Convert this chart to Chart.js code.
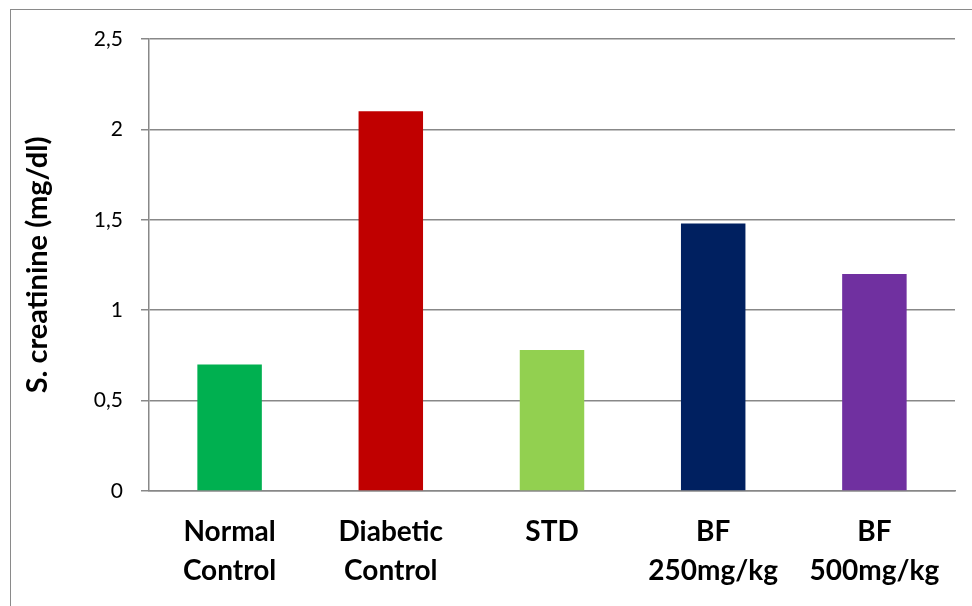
<!DOCTYPE html>
<html>
<head>
<meta charset="utf-8">
<script src="https://cdn.jsdelivr.net/npm/chart.js@4/dist/chart.umd.min.js"></script>
<style>
  html, body { margin: 0; padding: 0; background: #fff; }
  #wrap { position: relative; width: 972px; height: 606px; overflow: hidden; }
  #frame { position: absolute; left: 10px; top: 9px; width: 980px; height: 620px;
           border-left: 1px solid #8a8a8a; border-top: 1px solid #8a8a8a; box-sizing: border-box; }
  canvas { position: absolute; left: 0; top: 0; }
</style>
</head>
<body>
<div id="wrap">
  <div id="frame"></div>
  <canvas id="c" width="972" height="606"></canvas>
</div>
<script>
// Serum creatinine by treatment group
const groups = [['Normal', 'Control'], ['Diabetic', 'Control'], 'STD', ['BF', '250mg/kg'], ['BF', '500mg/kg']];
const creatinine = [0.70, 2.10, 0.78, 1.48, 1.20];
const barColors = ['#00B050', '#C00000', '#92D050', '#002060', '#7030A0'];
const yTickLabels = ['0', '0,5', '1', '1,5', '2', '2,5'];

const gridColor = '#888888';

new Chart(document.getElementById('c'), {
  type: 'bar',
  data: {
    labels: groups,
    datasets: [{
      data: creatinine,
      backgroundColor: barColors,
      borderWidth: 0,
      categoryPercentage: 1.0,
      barPercentage: 0.4
    }]
  },
  options: {
    responsive: false,
    animation: false,
    devicePixelRatio: 1,
    layout: { padding: { left: 0, right: 17, top: 39, bottom: 0 } },
    plugins: { legend: { display: false }, tooltip: { enabled: false } },
    scales: {
      x: {
        grid: { display: false, drawTicks: false },
        border: { display: true, color: gridColor, width: 1.5 },
        ticks: {
          color: '#000',
          padding: 22,
          maxRotation: 0,
          autoSkip: false,
          font: { family: 'Lato', weight: 'bold', size: 28, lineHeight: 1.38 }
        },
        afterFit: (s) => { s.height = 115; }
      },
      y: {
        min: 0,
        max: 2.5,
        ticks: {
          stepSize: 0.5,
          color: '#000',
          padding: 18,
          font: { family: 'Lato', size: 21 },
          callback: (v, i) => yTickLabels[i]
        },
        grid: { color: gridColor, lineWidth: 1.5, tickLength: 8, drawTicks: true },
        border: { display: true, color: gridColor, width: 1.5 },
        title: {
          display: true,
          text: 'S. creatinine (mg/dl)',
          color: '#000',
          font: { family: 'Lato', weight: 'bold', size: 29, lineHeight: 1.2 },
          padding: { top: 20, bottom: 0 }
        },
        afterFit: (s) => { s.width = 149; }
      }
    }
  }
});
</script>
</body>
</html>
